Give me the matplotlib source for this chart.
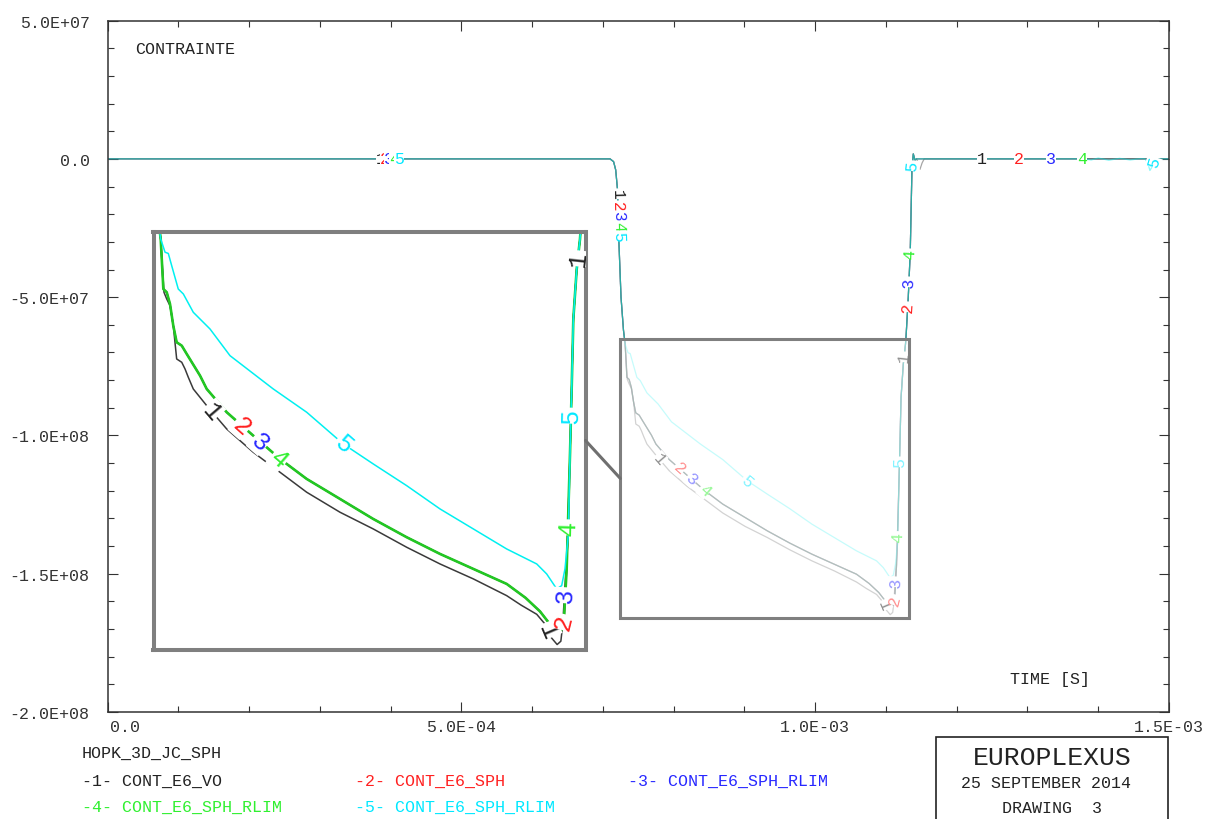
import numpy as np
import matplotlib.pyplot as plt
from matplotlib.patches import Rectangle, ConnectionPatch
from matplotlib.ticker import MultipleLocator
from matplotlib.transforms import ScaledTranslation

plt.rcParams['font.family'] = ['Liberation Mono', 'DejaVu Sans Mono']

# time in microseconds, stress (CONTRAINTE) in Pa
# part shared by all curves: rest then sudden drop
t_start = [0.0, 710.0, 715.0, 718.0, 720.5, 722.5, 725.5, 729.0, 731.3]
s_start = [0.0, 0.0, -1.0e6, -4.0e6, -1.1e7, -3.0e7, -5.0e7, -6.2e7, -6.69e7]

# shared return to zero
t_back = [1118.2, 1119.8, 1121.3, 1124.5, 1127.6, 1128.5, 1131.4, 1134.3, 1136.7, 1138.6, 1141.0, 1143.0]
s_back = [-1.1839e8, -1.0232e8, -8.622e7, -7.415e7, -6.691e7, -6.364e7, -5.06e7, -3.363e7, -3.6e6, 1.8e6, -0.5e6, 0.0]

# curve 1 : CONT_E6_VO
t_vo = [734.4, 737.0, 740.1, 743.2, 746.4, 751.2, 754.3, 757.4, 762.1, 774.8, 793.7, 818.8, 844.1,
        869.3, 900.8, 932.2, 963.8, 995.3, 1026.8, 1058.3, 1072.0, 1086.7, 1095.0, 1100.0, 1106.0,
        1109.5, 1111.3, 1113.4, 1116.5]
s_vo = [-7.977e7, -8.139e7, -8.301e7, -8.783e7, -9.587e7, -9.667e7, -9.828e7, -1.0029e8, -1.0311e8,
        -1.0714e8, -1.1277e8, -1.1839e8, -1.2322e8, -1.2804e8, -1.3287e8, -1.369e8, -1.4132e8,
        -1.4535e8, -1.4896e8, -1.530e8, -1.553e8, -1.575e8, -1.600e8, -1.630e8, -1.648e8, -1.640e8,
        -1.600e8, -1.5058e8, -1.3852e8]
t_vo_end = [1145.0, 1148.0, 1151.0, 1154.0, 1500.0]
s_vo_end = [-1.0e6, -3.8e6, -1.5e6, 0.0, 0.0]

# curves 2, 3, 4 : CONT_E6_SPH / CONT_E6_SPH_RLIM (superimposed)
t_sph = [733.8, 737.0, 740.1, 743.2, 746.4, 751.2, 755.9, 768.5, 774.8, 793.7, 818.8, 844.1, 869.3,
         900.8, 932.2, 963.8, 995.3, 1026.8, 1058.3, 1076.0, 1089.8, 1098.0, 1104.0, 1109.4, 1112.5,
         1115.0]
s_sph = [-7.898e7, -7.977e7, -8.26e7, -8.783e7, -9.184e7, -9.266e7, -9.466e7, -9.99e7, -1.0311e8,
         -1.0873e8, -1.1438e8, -1.2e8, -1.2483e8, -1.2966e8, -1.3449e8, -1.389e8, -1.4293e8,
         -1.4655e8, -1.5017e8, -1.535e8, -1.568e8, -1.595e8, -1.612e8, -1.617e8, -1.585e8, -1.4655e8]
t_sph_end = [1250.0, 1380.0, 1500.0]
s_sph_end = [0.0, 0.0, 0.0]

# curve 5 : CONT_E6_SPH_RLIM (cyan)
t_rl = [735.4, 738.5, 741.7, 747.9, 752.7, 762.1, 777.9, 796.8, 837.7, 869.3, 903.9, 932.2, 963.8,
        995.3, 1026.8, 1058.3, 1086.7, 1096.1, 1105.6, 1110.3, 1113.4, 1116.5]
s_rl = [-7.01e7, -7.04e7, -7.335e7, -7.898e7, -8.018e7, -8.46e7, -8.863e7, -9.507e7, -1.0311e8,
        -1.0873e8, -1.1639e8, -1.2121e8, -1.2645e8, -1.3207e8, -1.369e8, -1.4173e8, -1.4535e8,
        -1.4776e8, -1.5138e8, -1.5058e8, -1.4655e8, -1.3852e8]
t_rl_end = [1380.0, 1390.0, 1400.0, 1415.0, 1430.0, 1445.0, 1460.0, 1466.0, 1470.0, 1473.0, 1477.0, 1480.0, 1500.0]
s_rl_end = [0.0, -0.4e6, 0.3e6, -0.5e6, 0.2e6, -0.4e6, 0.1e6, 0.0, -1.5e6, -4.2e6, -2.5e6, 0.0, 0.0]

names = ['CONT_E6_VO', 'CONT_E6_SPH', 'CONT_E6_SPH_RLIM', 'CONT_E6_SPH_RLIM', 'CONT_E6_SPH_RLIM']
line_colors = ['#3a3a3a', '#ff0000', '#0000ff', '#22c822', '#00f0f0']
text_colors = ['#222222', '#ff2020', '#2828ff', '#30f030', '#00e8ff']

# label positions along each curve (time, microseconds)
label_times = [
    [386.3, 720.67, 779.5, 1097.3, 1125.6, 1235.7],
    [392.0, 721.13, 807.9, 1111.65, 1130.76, 1288.0],
    [397.6, 721.51, 825.2, 1113.67, 1132.45, 1333.2],
    [404.7, 721.89, 843.4, 1116.14, 1134.18, 1377.0],
    [411.7, 722.27, 903.9, 1119.08, 1137.1, 1478.5],
]

# zoom window shown in the inset
zoom_t = [724.5, 1132.8]
zoom_s = [-1.66e8, -6.51e7]

xticks = [0.0, 5.0e-4, 1.0e-3, 1.5e-3]
xlabels = ['0.0', '5.0E-04', '1.0E-03', '1.5E-03']
yticks = [5.0e7, 0.0, -5.0e7, -1.0e8, -1.5e8, -2.0e8]
ylabels = ['5.0E+07', '0.0', '-5.0E+07', '-1.0E+08', '-1.5E+08', '-2.0E+08']


def build(mid_t, mid_s, end_t, end_s):
    t = np.concatenate([t_start, mid_t, t_back, end_t]) * 1e-6
    s = np.concatenate([s_start, mid_s, s_back, end_s])
    return t, s


curves = [
    build(t_vo, s_vo, t_vo_end, s_vo_end),
    build(t_sph, s_sph, t_sph_end, s_sph_end),
    build(t_sph, s_sph, t_sph_end, s_sph_end),
    build(t_sph, s_sph, t_sph_end, s_sph_end),
    build(t_rl, s_rl, t_rl_end, s_rl_end),
]


def put_label(ax, t, s, tl, txt, color, size, z):
    y = np.interp(tl, t, s)
    i = int(np.clip(np.searchsorted(t, tl), 1, len(t) - 1))
    p = ax.transData.transform([(t[i - 1], s[i - 1]), (t[i], s[i])])
    ang = np.degrees(np.arctan2(p[1, 1] - p[0, 1], p[1, 0] - p[0, 0]))
    ax.text(tl, y, txt, color=color, fontsize=size, rotation=ang, rotation_mode='anchor',
            ha='center', va='center', zorder=z, clip_on=True,
            bbox=dict(boxstyle='square,pad=0.02', fc='white', ec='none'))


W, H = 1206, 820
fig = plt.figure(figsize=(W / 100, H / 100), dpi=100)

ax = fig.add_axes([107.7 / W, 1 - 713 / H, (1169 - 107.7) / W, (713 - 21.6) / H])
ax.set_xlim(0, 1.5e-3)
ax.set_ylim(-2.0e8, 5.0e7)

for k, (t, s) in enumerate(curves):
    ax.plot(t, s, color=line_colors[k], lw=0.9, alpha=0.45, zorder=2)
for k, (t, s) in enumerate(curves):
    for tl in label_times[k]:
        put_label(ax, t, s, tl * 1e-6, str(k + 1), text_colors[k], 12, 3 + k * 0.1)

# faded zoom window on the main plot
zt0, zt1 = zoom_t[0] * 1e-6, zoom_t[1] * 1e-6
ax.add_patch(Rectangle((zt0, zoom_s[0]), zt1 - zt0, zoom_s[1] - zoom_s[0],
                       fc='white', ec='none', alpha=0.5, zorder=5))
ax.add_patch(Rectangle((zt0, zoom_s[0]), zt1 - zt0, zoom_s[1] - zoom_s[0],
                       fc='none', ec='#7f7f7f', lw=2.2, zorder=6))

ax.set_xticks(xticks)
ax.set_xticklabels(xlabels)
ax.set_yticks(yticks)
ax.set_yticklabels(ylabels)
ax.xaxis.set_minor_locator(MultipleLocator(1e-4))
ax.yaxis.set_minor_locator(MultipleLocator(1e7))
ax.tick_params(which='both', direction='in', top=True, right=True, color='#333333', width=0.8,
               labelsize=12, labelcolor='#333333')
ax.tick_params(which='major', length=7)
ax.tick_params(which='minor', length=4.5)
ax.tick_params(axis='x', pad=5)
ax.tick_params(axis='y', pad=13)
lab0 = ax.get_xticklabels()[0]
lab0.set_transform(lab0.get_transform() + ScaledTranslation(0.17, 0, fig.dpi_scale_trans))
for sp in ax.spines.values():
    sp.set_color('#333333')
    sp.set_linewidth(1.1)

# inset: magnified copy of the zoom window
axi = fig.add_axes([153.5 / W, 1 - 650.5 / H, 432 / W, 418 / H])
axi.set_xlim(zt0, zt1)
axi.set_ylim(zoom_s[0], zoom_s[1])
for k, (t, s) in enumerate(curves):
    axi.plot(t, s, color=line_colors[k], lw=1.9 if k == 3 else 1.1, zorder=2)
for k, (t, s) in enumerate(curves):
    for tl in label_times[k]:
        if zt0 < tl * 1e-6 < zt1 and zoom_s[0] < np.interp(tl * 1e-6, t, s) < zoom_s[1]:
            put_label(axi, t, s, tl * 1e-6, str(k + 1), text_colors[k], 18, 3 + k * 0.1)
axi.set_xticks([])
axi.set_yticks([])
for sp in axi.spines.values():
    sp.set_color('#7f7f7f')
    sp.set_linewidth(2.9)

con = ConnectionPatch(xyA=(1.0, 0.5), coordsA=axi.transAxes,
                      xyB=(zt0, (zoom_s[0] + zoom_s[1]) / 2), coordsB=ax.transData,
                      color='#6f6f6f', lw=2.2)
fig.add_artist(con)

# texts
def ftext(x, y, s, **kw):
    fig.text(x / W, 1 - y / H, s, va='center', **kw)

ftext(135, 49, 'CONTRAINTE', fontsize=12, color='#222222')
ftext(1010, 680, 'TIME [S]', fontsize=12, color='#222222')
ftext(82, 753, 'HOPK_3D_JC_SPH', fontsize=12, color='#222222')
leg_pos = [(82, 781), (355, 781), (628, 781), (82, 807), (355, 807)]
for k, (x, y) in enumerate(leg_pos):
    ftext(x, y, '-%d- %s' % (k + 1, names[k]), fontsize=12, color=text_colors[k])

fig.add_artist(Rectangle((936 / W, -0.05), (1168 - 936) / W, 0.05 + (H - 738) / H,
                         transform=fig.transFigure, fc='none', ec='#222222', lw=1.2))
ftext(1052, 758, 'EUROPLEXUS', fontsize=19, color='#222222', ha='center')
ftext(1046, 784, '25 SEPTEMBER 2014', fontsize=12, color='#222222', ha='center')
ftext(1052, 809, 'DRAWING  3', fontsize=12, color='#222222', ha='center')

fig.savefig('out.png', dpi=100)
